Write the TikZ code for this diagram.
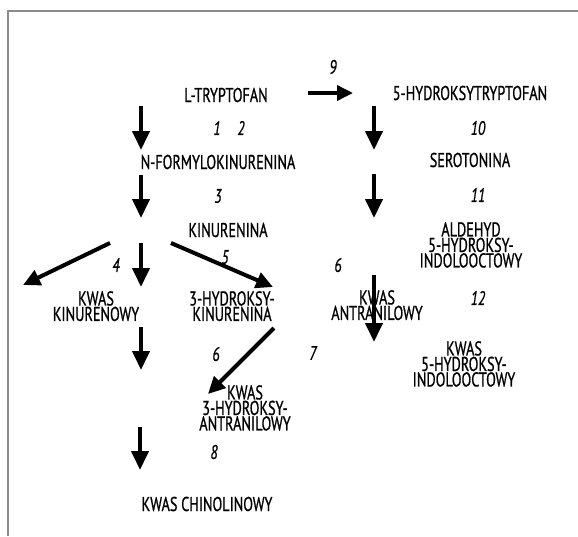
\documentclass[tikz,border=0pt]{standalone}
\usepackage{fontspec}
\setmainfont{PT Sans}[FakeStretch=0.71, FakeBold=0.8]
\usetikzlibrary{arrows.meta}

\tikzset{
  compound/.style={font=\fontsize{20}{15.5}\selectfont, inner sep=0pt, align=center},
  enzyme/.style={font=\fontsize{19.5}{19.5}\selectfont\itshape, inner sep=0pt},
  pathway/.style={line width=4pt, -{Triangle[width=17pt,length=19pt]}},
  slant/.style={line width=4pt, -{Triangle[width=16pt,length=17pt]}},
}

\begin{document}
\begin{tikzpicture}[x=1pt,y=-1pt]
  \useasboundingbox (0,0) rectangle (578,536);
  % frame
  \draw[black!45, line width=1.4pt] (8,536) -- (8,11) -- (578,11);
  % compounds
  \node[compound] (trp) at (226,95) {L-TRYPTOFAN};
  \node[compound] (htp) at (470,93) {5-HYDROKSYTRYPTOFAN};
  \node[compound] (nfk) at (218,162) {N-FORMYLOKINURENINA};
  \node[compound] (sert) at (470,160) {SEROTONINA};
  \node[compound] (kyn) at (228,230) {KINURENINA};
  \node[compound, anchor=north] (ald) at (471,222) {ALDEHYD\\5-HYDROKSY-\\INDOLOOCTOWY};
  \node[compound, anchor=north] (kyna) at (96,291) {KWAS\\KINURENOWY};
  \node[compound, anchor=north] (hk) at (232,291) {3-HYDROKSY-\\KINURENINA};
  \node[compound, anchor=north] (aa) at (377,290) {KWAS\\ANTRANILOWY};
  \node[compound, anchor=north] (hiaa) at (464,341) {KWAS\\5-HYDROKSY-\\INDOLOOCTOWY};
  \node[compound, anchor=north] (haa) at (245,385) {KWAS\\3-HYDROKSY-\\ANTRANILOWY};
  \node[compound] (qa) at (207,504) {KWAS CHINOLINOWY};
  % enzyme numbers
  \node[enzyme] (e9) at (333,67) {9};
  \node[enzyme] (e1) at (217,128) {1};
  \node[enzyme] (e2) at (241,128) {2};
  \node[enzyme] (e10) at (478,128) {10};
  \node[enzyme] (e3) at (218,196) {3};
  \node[enzyme] (e11) at (478,195) {11};
  \node[enzyme] (e4) at (116,265) {4};
  \node[enzyme] (e5) at (225,257) {5};
  \node[enzyme] (e6a) at (338,265) {6};
  \node[enzyme] (e12) at (478,298) {12};
  \node[enzyme] (e6b) at (216,354) {6};
  \node[enzyme] (e7) at (313,353) {7};
  \node[enzyme] (e8) at (214,452) {8};
  % arrow ends
  \coordinate (v1-s) at (141,106); \coordinate (v1-e) at (141,150);
  \coordinate (v2-s) at (141,175); \coordinate (v2-e) at (141,218);
  \coordinate (s1-s) at (374,106); \coordinate (s1-e) at (374,150);
  \coordinate (s2-s) at (374,174); \coordinate (s2-e) at (374,218);
  \coordinate (km-s) at (141,243); \coordinate (km-e) at (141,287);
  \coordinate (kd-s) at (141,327); \coordinate (kd-e) at (141,370);
  \coordinate (ad-s) at (374,275); \coordinate (ad-e) at (374,342);
  \coordinate (qd-s) at (140,427); \coordinate (qd-e) at (140,470);
  \coordinate (kl-s) at (110,243); \coordinate (kl-e) at (23,285);
  \coordinate (kr-s) at (171,243); \coordinate (kr-e) at (273,287);
  \coordinate (hd-s) at (274,328); \coordinate (hd-e) at (208,394);
  \coordinate (h9-s) at (308,93);  \coordinate (h9-e) at (353,93);
  % arrows
  \foreach \a in {v1,v2,s1,s2,km,kd,ad,qd}
    \draw[pathway] (\a-s) -- (\a-e);
  \foreach \a in {kl,kr,hd}
    \draw[slant] (\a-s) -- (\a-e);
  \draw[line width=3.5pt, -{Triangle[width=15pt,length=16pt]}] (h9-s) -- (h9-e);
\end{tikzpicture}
\end{document}
